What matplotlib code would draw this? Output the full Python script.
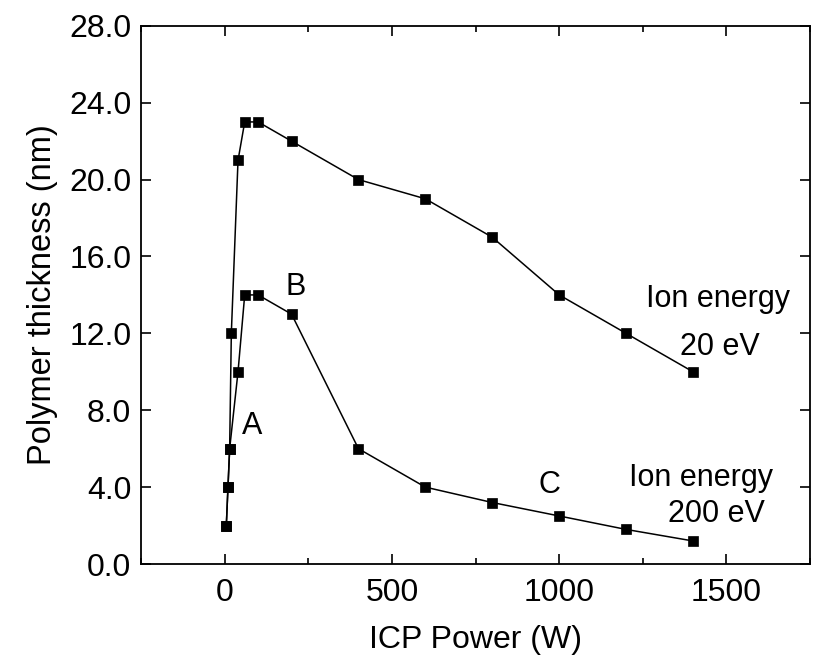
import matplotlib.pyplot as plt

plt.rcParams.update({"font.family": ["Liberation Sans", "DejaVu Sans"], "font.size": 23})

# ion energy 20 eV
power_20 = [5, 10, 15, 20, 40, 60, 100, 200, 400, 600, 800, 1000, 1200, 1400]
thick_20 = [2, 4, 6, 12, 21, 23, 23, 22, 20, 19, 17, 14, 12, 10]

# ion energy 200 eV
power_200 = [5, 10, 15, 40, 60, 100, 200, 400, 600, 800, 1000, 1200, 1400]
thick_200 = [2, 4, 6, 10, 14, 14, 13, 6, 4, 3.2, 2.5, 1.8, 1.2]

yticks = [0, 4, 8, 12, 16, 20, 24, 28]
xticks = [0, 500, 1000, 1500]

fig = plt.figure(figsize=(8.15, 6.62), dpi=100)
ax = fig.add_axes([0.173, 0.148, 0.821, 0.813])

ax.plot(power_20, thick_20, 'k-s', lw=1.1, ms=7, mew=0.5)
ax.plot(power_200, thick_200, 'k-s', lw=1.1, ms=7, mew=0.5)

fs = 22
ax.text(81, 7.2, 'A', ha='center', va='center', fontsize=fs)
ax.text(213, 14.4, 'B', ha='center', va='center', fontsize=fs)
ax.text(970, 4.1, 'C', ha='center', va='center', fontsize=fs)
ax.text(1476, 13.8, 'Ion energy', ha='center', va='center', fontsize=fs)
ax.text(1479, 11.3, '20 eV', ha='center', va='center', fontsize=fs)
ax.text(1425, 4.5, 'Ion energy', ha='center', va='center', fontsize=fs)
ax.text(1470, 2.6, '200 eV', ha='center', va='center', fontsize=fs)

ax.set_xlim(-250, 1750)
ax.set_ylim(0, 28)
ax.set_xticks(xticks)
ax.set_xticks([-250, 250, 750, 1250, 1750], minor=True)
ax.set_yticks(yticks)
ax.set_yticklabels(['%.1f' % v for v in yticks])
ax.tick_params(which='both', direction='in', top=True, right=True, width=1.2)
ax.tick_params(which='major', length=7)
ax.tick_params(axis='x', which='major', pad=10)
ax.tick_params(axis='y', which='major', pad=7)
ax.tick_params(which='minor', length=4)
for s in ax.spines.values():
    s.set_linewidth(1.3)

ax.set_xlabel('ICP Power (W)', labelpad=12)
ax.set_ylabel('Polymer thickness (nm)', fontsize=23.5, labelpad=8)

plt.savefig('out.png', dpi=100)
